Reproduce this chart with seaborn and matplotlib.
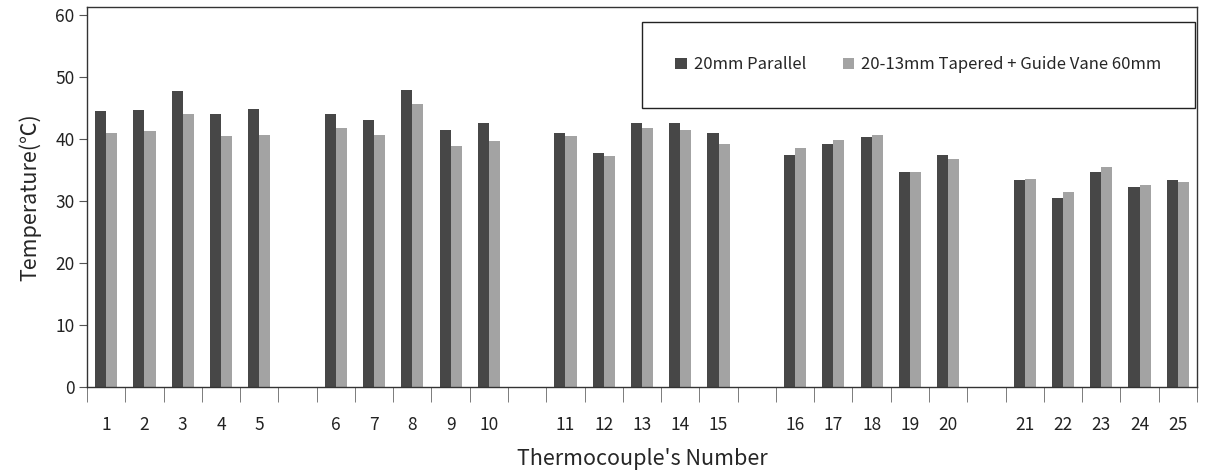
import numpy as np
import pandas as pd
import seaborn as sns
import matplotlib.pyplot as plt
from matplotlib.patches import Rectangle

# 열전대 번호 / 온도 데이터
numbers = ['1', '2', '3', '4', '5', '6', '7', '8', '9', '10',
           '11', '12', '13', '14', '15', '16', '17', '18', '19', '20',
           '21', '22', '23', '24', '25']
parallel = [44.5, 44.7, 47.7, 44.1, 44.9, 44.0, 43.1, 47.9, 41.5, 42.5,
            41.0, 37.8, 42.5, 42.6, 41.0, 37.4, 39.1, 40.3, 34.6, 37.4,
            33.3, 30.5, 34.6, 32.2, 33.3]
tapered = [41.0, 41.3, 44.1, 40.4, 40.7, 41.7, 40.6, 45.6, 38.9, 39.7,
           40.4, 37.2, 41.7, 41.5, 39.2, 38.5, 39.8, 40.7, 34.6, 36.7,
           33.6, 31.4, 35.5, 32.6, 33.0]
series_names = ['20mm Parallel', '20-13mm Tapered + Guide Vane 60mm']
colors = ['#474747', '#a3a3a3']

# 5개씩 묶고 그룹 사이에 빈 칸
order = []
for i, n in enumerate(numbers):
    order.append(n)
    if (i + 1) % 5 == 0 and i < len(numbers) - 1:
        order.append('gap%d' % ((i + 1) // 5))

df = pd.DataFrame({
    'slot': numbers * 2,
    'temp': parallel + tapered,
    'case': [series_names[0]] * len(numbers) + [series_names[1]] * len(numbers),
})

sns.set_style('ticks')
plt.rcParams['font.family'] = ['Noto Sans CJK KR', 'DejaVu Sans']

fig = plt.figure(figsize=(12.09, 4.76), dpi=100)
ax = fig.add_axes([0.072, 0.1876, 0.918, 0.797])

sns.barplot(data=df, x='slot', y='temp', hue='case', order=order,
            hue_order=series_names, palette=colors, saturation=1,
            width=0.58, ax=ax, linewidth=0)

ax.set_xlim(-0.5, len(order) - 0.5)
ax.set_ylim(0, 61.24)
ax.set_yticks(range(0, 61, 10))
ax.tick_params(axis='y', labelsize=12.5, length=6, pad=3, color='#555555', labelcolor='#222222')

ax.set_xticks(range(len(order)))
ax.set_xticklabels([s if not s.startswith('gap') else '' for s in order], fontsize=12.5, color='#222222')
ax.tick_params(axis='x', which='major', length=0, pad=21)
ax.set_xticks(np.arange(-0.5, len(order), 1.0), minor=True)
ax.tick_params(axis='x', which='minor', length=11, color='#666666', direction='out')

for side in ['top', 'right', 'left', 'bottom']:
    ax.spines[side].set_visible(True)
    ax.spines[side].set_color('#333333')
    ax.spines[side].set_linewidth(1.0)

ax.set_xlabel("Thermocouple's Number", fontsize=15.5, labelpad=10)
ax.set_ylabel('Temperature(℃)', fontsize=15.5, labelpad=10)

# 범례 박스
ax.add_patch(Rectangle((0.5, 0.735), 0.498, 0.226, transform=ax.transAxes,
                       fill=False, edgecolor='#222222', linewidth=1.0, zorder=5))
ax.legend(loc='center', bbox_to_anchor=(0.749, 0.848), ncol=2, frameon=False,
          fontsize=12, handlelength=0.7, handleheight=0.7, handletextpad=0.4,
          columnspacing=2.2)

plt.savefig('out.png', dpi=100)
